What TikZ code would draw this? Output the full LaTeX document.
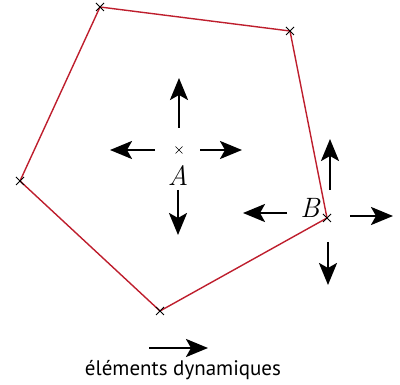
\documentclass[tikz,border=0pt]{standalone}
\usepackage{fontspec}
\newfontfamily\legendfont{PT Sans}
\usetikzlibrary{arrows.meta,calc}
\definecolor{poly}{RGB}{190,30,45}
\tikzset{
  dyn/.style={line width=2.7pt,-{Stealth[length=22pt,width=18pt,inset=5pt]}},
  edge/.style={draw=poly,line width=1.4pt,line join=miter},
  crossmark/.style={line width=0.9pt},
  ptlabel/.style={font=\fontsize{28}{33}\selectfont\itshape}
}
\begin{document}
\begin{tikzpicture}[x=1pt,y=-1pt]
\useasboundingbox (0,0) rectangle (400,385);
% polygon vertices
\coordinate (P1) at (100,7);
\coordinate (P2) at (290,31);
\coordinate (B) at (327,218);
\coordinate (P4) at (160,311);
\coordinate (P5) at (20,181);
\coordinate (A) at (179,150);
\draw[edge] (P1) -- (P2) -- (B) -- (P4) -- (P5) -- cycle;
% cross marks
\foreach \p in {P1,P2,B,P4,P5}{
  \draw[crossmark] ($(\p)+(-4,-4)$) -- ($(\p)+(4,4)$) ($(\p)+(-4,4)$) -- ($(\p)+(4,-4)$);
}
\draw[line width=0.7pt] ($(A)+(-3.5,-3.5)$) -- ($(A)+(3.5,3.5)$) ($(A)+(-3.5,3.5)$) -- ($(A)+(3.5,-3.5)$);
% labels
\node[ptlabel] (LA) at (178,176) {A};
\node[ptlabel] (LB) at (310,208) {B};
% arrows at A
\coordinate (Au0) at (179,128); \coordinate (Au1) at (179,78);
\coordinate (Al0) at (155,150); \coordinate (Al1) at (110,150);
\coordinate (Ar0) at (200,150); \coordinate (Ar1) at (242,150);
\coordinate (Ad0) at (178,190); \coordinate (Ad1) at (178,235);
\draw[dyn] (Au0) -- (Au1);
\draw[dyn] (Al0) -- (Al1);
\draw[dyn] (Ar0) -- (Ar1);
\draw[dyn] (Ad0) -- (Ad1);
% arrows at B
\coordinate (Bu0) at (330,190); \coordinate (Bu1) at (330,139);
\coordinate (Bl0) at (287,213); \coordinate (Bl1) at (243,213);
\coordinate (Br0) at (350,216); \coordinate (Br1) at (393,216);
\coordinate (Bd0) at (328,242); \coordinate (Bd1) at (328,285);
\draw[dyn] (Bu0) -- (Bu1);
\draw[dyn] (Bl0) -- (Bl1);
\draw[dyn] (Br0) -- (Br1);
\draw[dyn] (Bd0) -- (Bd1);
% legend
\coordinate (L0) at (149,348); \coordinate (L1) at (208,348);
\draw[dyn] (L0) -- (L1);
\node (leg) at (183,370) {\legendfont\fontsize{21}{25}\selectfont éléments dynamiques};
\end{tikzpicture}
\end{document}
